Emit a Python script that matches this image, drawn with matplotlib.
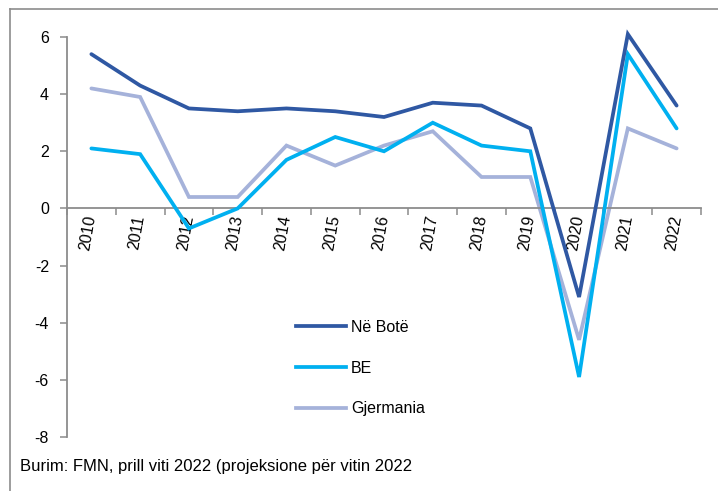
import matplotlib
matplotlib.use("Agg")
import matplotlib.pyplot as plt
from matplotlib.lines import Line2D

# -----------------------------
# DATA (rritja ekonomike, %)
# -----------------------------
years = ["2010", "2011", "2012", "2013", "2014", "2015", "2016",
         "2017", "2018", "2019", "2020", "2021", "2022"]
bota = [5.4, 4.3, 3.5, 3.4, 3.5, 3.4, 3.2, 3.7, 3.6, 2.8, -3.1, 6.1, 3.6]
be = [2.1, 1.9, -0.7, 0.0, 1.7, 2.5, 2.0, 3.0, 2.2, 2.0, -5.9, 5.4, 2.8]
gjermania = [4.2, 3.9, 0.4, 0.4, 2.2, 1.5, 2.2, 2.7, 1.1, 1.1, -4.6, 2.8, 2.1]

labels = ["Në Botë", "BE", "Gjermania"]
colors = ["#2F58A3", "#00B0F0", "#A5B2DA"]

plt.rcParams["font.family"] = ["Liberation Sans", "DejaVu Sans"]

fig = plt.figure(figsize=(7.18, 4.91), dpi=100)
ax = fig.add_axes([67 / 718, 1 - 437 / 491, 634 / 718, 400 / 491])

x = list(range(len(years)))
# draw order: Germany at the back, world on top
for series, col, z in [(gjermania, colors[2], 2), (be, colors[1], 3), (bota, colors[0], 4)]:
    ax.plot(x, series, color=col, lw=2.7, solid_capstyle="round",
            solid_joinstyle="miter", zorder=z, clip_on=False)

ax.set_ylim(-8, 6)
ax.set_xlim(-0.5, len(years) - 0.5)
ax.set_yticks(range(-8, 7, 2))
ax.set_yticklabels([str(v) for v in range(-8, 7, 2)], fontsize=11.5)

grey = "#8C8C8C"
for s in ["top", "right"]:
    ax.spines[s].set_visible(False)
ax.spines["left"].set_color(grey)
ax.spines["left"].set_linewidth(1.3)
ax.spines["bottom"].set_color(grey)
ax.spines["bottom"].set_linewidth(1.3)
ax.spines["bottom"].set_position(("data", 0))

ax.tick_params(axis="y", direction="out", length=5, color=grey, width=1.1, pad=8)

# x ticks between categories, labels at the centres
ax.set_xticks([i - 0.5 for i in range(len(years) + 1)])
ax.set_xticklabels([])
ax.tick_params(axis="x", which="major", direction="out", length=5, color=grey, width=1.1)
ax.set_xticks(x, minor=True)
ax.set_xticklabels(years, minor=True, rotation=80, fontsize=11.5,
                   ha="right", va="center", rotation_mode="anchor")
ax.tick_params(axis="x", which="minor", length=0, pad=5)

handles = [Line2D([0], [0], color=c, lw=2.7) for c in colors]
fig.legend(handles, labels, loc="upper left",
           bbox_to_anchor=(296 / 718, 1 - 320 / 491), frameon=False,
           fontsize=11.5, handlelength=3.1, handletextpad=0.35,
           labelspacing=1.6, borderpad=0, borderaxespad=0)

fig.text(20 / 718, 1 - 467 / 491,
         "Burim: FMN, prill viti 2022 (projeksione për vitin 2022",
         fontsize=12, va="center", ha="left")

# outer frame of the chart box
fig.add_artist(Line2D([10 / 718, 10 / 718], [0, 1 - 9 / 491], color=grey, lw=1.2))
fig.add_artist(Line2D([10 / 718, 1], [1 - 9 / 491, 1 - 9 / 491], color=grey, lw=1.2))

fig.savefig("out.png", dpi=100)
